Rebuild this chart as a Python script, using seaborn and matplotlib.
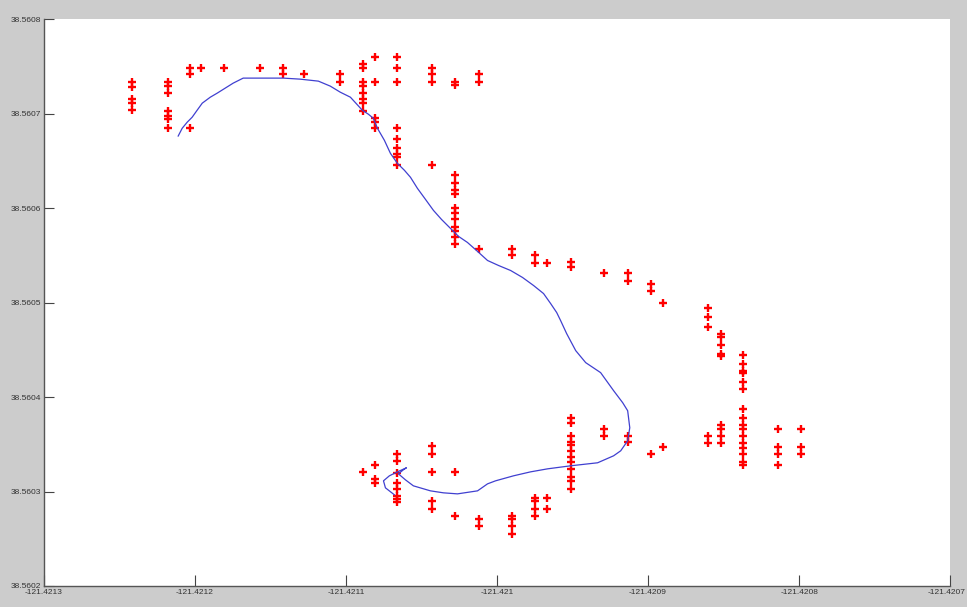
# Nodos de cobertura y recorrido GPS

import matplotlib.pyplot as plt
import matplotlib.ticker as mticker
import matplotlib.transforms as mtransforms
import pandas as pd
import seaborn as sns

sns.set_theme(style="white")
plt.rcParams["font.family"] = ["Liberation Sans Narrow", "Liberation Sans", "DejaVu Sans"]

# Columnas de nodos (longitud) y sus latitudes
col_lon = [-121.421242, -121.421218, -121.421203, -121.421196, -121.421181,
           -121.421157, -121.421142, -121.421128, -121.421104, -121.421089,
           -121.421081, -121.421066, -121.421043, -121.421028, -121.421012,
           -121.420990, -121.420975, -121.420967, -121.420951, -121.420929,
           -121.420913, -121.420898, -121.420890, -121.420860, -121.420852,
           -121.420837, -121.420814, -121.420799]

col_lat = [
    [38.560733, 38.560728, 38.560715, 38.560711, 38.560704],
    [38.560733, 38.560729, 38.560722, 38.560703, 38.560697, 38.560694, 38.560685],
    [38.560748, 38.560742, 38.560685],
    [38.560748],
    [38.560748],
    [38.560748],
    [38.560748, 38.560742],
    [38.560742],
    [38.560742, 38.560733],
    [38.560752, 38.560748, 38.560733, 38.560729, 38.560722, 38.560715, 38.560711,
     38.560703, 38.560321],
    [38.560760, 38.560733, 38.560695, 38.560691, 38.560685, 38.560328, 38.560313,
     38.560309],
    [38.560760, 38.560748, 38.560733, 38.560685, 38.560673, 38.560664, 38.560657,
     38.560654, 38.560646, 38.560340, 38.560332, 38.560320, 38.560309, 38.560303,
     38.560295, 38.560292, 38.560289],
    [38.560748, 38.560742, 38.560733, 38.560646, 38.560348, 38.560340, 38.560321,
     38.560290, 38.560282],
    [38.560733, 38.560730, 38.560635, 38.560626, 38.560619, 38.560615, 38.560600,
     38.560595, 38.560588, 38.560580, 38.560576, 38.560569, 38.560562, 38.560321,
     38.560274],
    [38.560742, 38.560733, 38.560557, 38.560271, 38.560264],
    [38.560557, 38.560550, 38.560274, 38.560271, 38.560264, 38.560255],
    [38.560550, 38.560542, 38.560293, 38.560290, 38.560282, 38.560274],
    [38.560542, 38.560293, 38.560282],
    [38.560543, 38.560538, 38.560378, 38.560372, 38.560359, 38.560352, 38.560349,
     38.560343, 38.560336, 38.560331, 38.560324, 38.560315, 38.560311, 38.560303],
    [38.560531, 38.560366, 38.560359],
    [38.560531, 38.560523, 38.560359, 38.560352],
    [38.560520, 38.560512, 38.560340],
    [38.560500, 38.560347],
    [38.560494, 38.560485, 38.560474, 38.560359, 38.560351],
    [38.560467, 38.560463, 38.560455, 38.560446, 38.560443, 38.560370, 38.560366,
     38.560359, 38.560351],
    [38.560444, 38.560435, 38.560428, 38.560425, 38.560416, 38.560409, 38.560387,
     38.560378, 38.560370, 38.560366, 38.560359, 38.560351, 38.560346, 38.560340,
     38.560331, 38.560328],
    [38.560366, 38.560347, 38.560340, 38.560328],
    [38.560366, 38.560347, 38.560340],
]

# Recorrido (trayectoria)
ruta_lon = [-121.4212112, -121.4212085, -121.4212052, -121.4212019, -121.4211986,
            -121.4211952, -121.4211899, -121.4211853, -121.4211800, -121.4211747,
            -121.4211681, -121.4211548, -121.4211415, -121.4211303, -121.4211183,
            -121.4211104, -121.4211038, -121.4210971, -121.4210892, -121.4210852,
            -121.4210819, -121.4210792, -121.4210746, -121.4210706, -121.4210660,
            -121.4210613, -121.4210573, -121.4210527, -121.4210474, -121.4210421,
            -121.4210368, -121.4210308, -121.4210255, -121.4210196, -121.4210129,
            -121.4210063, -121.4209990, -121.4209910, -121.4209831, -121.4209758,
            -121.4209692, -121.4209645, -121.4209605, -121.4209579, -121.4209539,
            -121.4209479, -121.4209413, -121.4209314, -121.4209228, -121.4209168,
            -121.4209135, -121.4209121, -121.4209135, -121.4209181, -121.4209228,
            -121.4209334, -121.4209513, -121.4209665, -121.4209778, -121.4209891,
            -121.4210010, -121.4210063, -121.4210129, -121.4210262, -121.4210355,
            -121.4210441, -121.4210554, -121.4210607, -121.4210653, -121.4210620,
            -121.4210600, -121.4210660, -121.4210713, -121.4210752, -121.4210739,
            -121.4210679]
ruta_lat = [38.5606760, 38.5606844, 38.5606908, 38.5606961, 38.5607035,
            38.5607110, 38.5607173, 38.5607216, 38.5607269, 38.5607322,
            38.5607375, 38.5607375, 38.5607375, 38.5607364, 38.5607343,
            38.5607290, 38.5607226, 38.5607173, 38.5607035, 38.5606993,
            38.5606950, 38.5606844, 38.5606717, 38.5606579, 38.5606473,
            38.5606399, 38.5606325, 38.5606208, 38.5606092, 38.5605975,
            38.5605880, 38.5605784, 38.5605700, 38.5605636, 38.5605541,
            38.5605445, 38.5605392, 38.5605339, 38.5605265, 38.5605180,
            38.5605095, 38.5604989, 38.5604894, 38.5604809, 38.5604671,
            38.5604491, 38.5604364, 38.5604258, 38.5604067, 38.5603940,
            38.5603855, 38.5603675, 38.5603537, 38.5603431, 38.5603378,
            38.5603304, 38.5603272, 38.5603240, 38.5603208, 38.5603166,
            38.5603113, 38.5603081, 38.5603007, 38.5602975, 38.5602986,
            38.5603007, 38.5603060, 38.5603124, 38.5603187, 38.5603230,
            38.5603251, 38.5603208, 38.5603166, 38.5603113, 38.5603039,
            38.5602964]

x_ticks = [-121.4213, -121.4212, -121.4211, -121.4210, -121.4209, -121.4208, -121.4207]
y_ticks = [38.5602, 38.5603, 38.5604, 38.5605, 38.5606, 38.5607, 38.5608]

nodos = pd.DataFrame({
    "lon": [lo for lo, lats in zip(col_lon, col_lat) for _ in lats],
    "lat": [la for lats in col_lat for la in lats],
})
ruta = pd.DataFrame({"lon": ruta_lon, "lat": ruta_lat, "paso": range(len(ruta_lon))})

fig = plt.figure(figsize=(9.67, 6.07), dpi=100, facecolor="#cccccc")
ax = fig.add_axes([0.0455, 0.0346, 0.937, 0.934])
ax.set_facecolor("white")

sns.lineplot(data=ruta, x="lon", y="lat", sort=False, estimator=None,
             color="#4040d0", linewidth=0.9, ax=ax)
sns.scatterplot(data=nodos, x="lon", y="lat", marker="+", s=28,
                color="red", linewidth=1.7, ax=ax)

ax.set_xlim(x_ticks[0], x_ticks[-1])
ax.set_ylim(y_ticks[0], y_ticks[-1])
ax.set_xticks(x_ticks)
ax.set_yticks(y_ticks)
fmt = mticker.FuncFormatter(lambda v, p: "{:.10g}".format(round(v, 4)))
ax.xaxis.set_major_formatter(fmt)
ax.yaxis.set_major_formatter(fmt)
ax.set_xlabel("")
ax.set_ylabel("")

for lado in ["top", "right"]:
    ax.spines[lado].set_visible(False)
for lado in ["left", "bottom"]:
    ax.spines[lado].set_color("#555555")
    ax.spines[lado].set_linewidth(1.0)

ax.tick_params(axis="x", direction="in", length=8, width=0.8, color="#444444",
               labelsize=6, labelcolor="#333333", pad=2)
ax.tick_params(axis="y", direction="in", length=7, width=0.8, color="#444444",
               labelsize=6, labelcolor="#333333", pad=2)
ax.tick_params(left=True, bottom=True)

# la ultima etiqueta del eje x queda pegada al borde, se corre un poco
ultima = ax.get_xticklabels()[-1]
ultima.set_transform(ultima.get_transform() +
                     mtransforms.ScaledTranslation(-4 / 100, 0, fig.dpi_scale_trans))

fig.savefig("out.png", dpi=100, facecolor=fig.get_facecolor())
